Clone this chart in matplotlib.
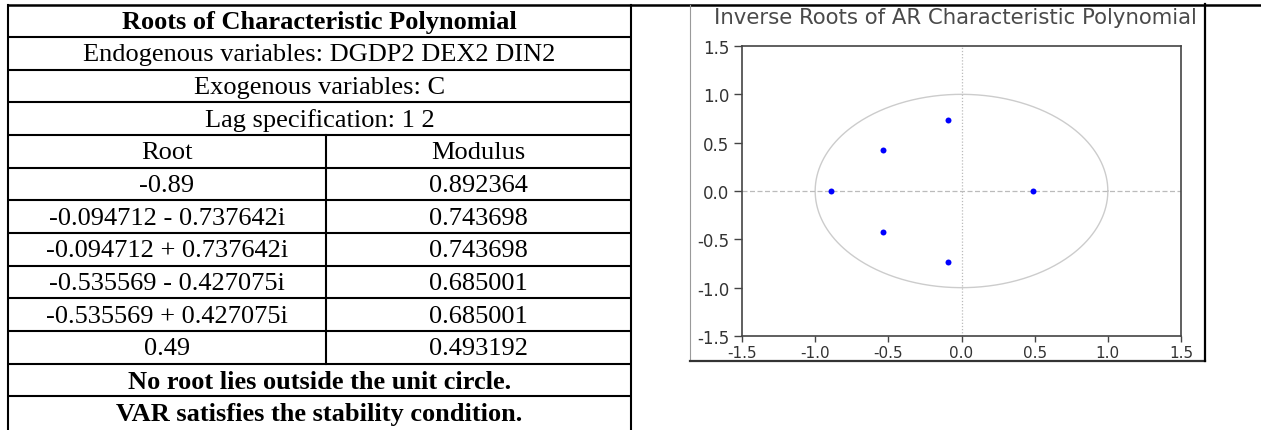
import matplotlib
matplotlib.use('Agg')
import matplotlib.pyplot as plt
import numpy as np

# ---------------- data ----------------
header_rows = ["Roots of Characteristic Polynomial",
               "Endogenous variables: DGDP2 DEX2 DIN2",
               "Exogenous variables: C",
               "Lag specification: 1 2"]
col_headers = ["Root", "Modulus"]
root_labels = ["-0.89", "-0.094712 - 0.737642i", "-0.094712 + 0.737642i",
               "-0.535569 - 0.427075i", "-0.535569 + 0.427075i", "0.49"]
modulus_labels = ["0.892364", "0.743698", "0.743698", "0.685001", "0.685001", "0.493192"]
footer_rows = ["No root lies outside the unit circle.",
               "VAR satisfies the stability condition."]
root_re = [-0.89, -0.094712, -0.094712, -0.535569, -0.535569, 0.49]
root_im = [0.0, -0.737642, 0.737642, -0.427075, 0.427075, 0.0]
chart_title = "Inverse Roots of AR Characteristic Polynomial"
tick_values = [-1.5, -1.0, -0.5, 0.0, 0.5, 1.0, 1.5]
tick_labels = ["-1.5", "-1.0", "-0.5", "0.0", "0.5", "1.0", "1.5"]

# ---------------- figure ----------------
W, H = 1261, 431
fig = plt.figure(figsize=(W / 100, H / 100), dpi=100)
bg = fig.add_axes([0, 0, 1, 1])
bg.set_xlim(0, W)
bg.set_ylim(H, 0)
bg.axis('off')

serif = 'Liberation Serif'
fs = 19
tl, tr, tc = 8, 631, 326
xmid = (tl + tr) / 2
n_rows = len(header_rows) + 1 + len(root_labels) + len(footer_rows)
edges = np.linspace(5.5, 430, n_rows + 1)
lw = 1.5

# table lines
bg.plot([tl, W], [edges[0], edges[0]], color='black', lw=1.8, solid_capstyle='butt')
for e in edges[1:-1]:
    bg.plot([tl, tr], [e, e], color='black', lw=lw, solid_capstyle='butt')
bg.plot([tl, tl], [edges[0], H], color='black', lw=lw)
bg.plot([tr, tr], [edges[0], H], color='black', lw=lw)
i0 = len(header_rows)
i1 = i0 + 1 + len(root_labels)
bg.plot([tc, tc], [edges[i0], edges[i1]], color='black', lw=lw)

def rowy(i):
    return (edges[i] + edges[i + 1]) / 2 + 1

for i, t in enumerate(header_rows):
    bg.text(xmid, rowy(i), t, ha='center', va='center', fontsize=fs, family=serif,
            fontweight='bold' if i == 0 else 'normal')
bg.text((tl + tc) / 2, rowy(i0), col_headers[0], ha='center', va='center', fontsize=fs, family=serif)
bg.text((tc + tr) / 2, rowy(i0), col_headers[1], ha='center', va='center', fontsize=fs, family=serif)
for k, (r, m) in enumerate(zip(root_labels, modulus_labels)):
    bg.text((tl + tc) / 2, rowy(i0 + 1 + k), r, ha='center', va='center', fontsize=fs, family=serif)
    bg.text((tc + tr) / 2, rowy(i0 + 1 + k), m, ha='center', va='center', fontsize=fs, family=serif)
for k, t in enumerate(footer_rows):
    bg.text(xmid, rowy(i1 + k), t, ha='center', va='center', fontsize=fs, family=serif, fontweight='bold')

# chart image frame
bg.plot([690, 690], [6, 362], color='#9a9a9a', lw=0.8)
bg.plot([690, 1205], [362, 362], color='#333333', lw=1.6)
bg.plot([1205, 1205], [5, 362], color='black', lw=1.6)
bg.text(955, 18.5, chart_title, ha='center', va='center', fontsize=15.3,
        color='#4a4a4a', family='DejaVu Sans')

# ---------------- chart ----------------
ax = fig.add_axes([742 / W, (H - 337) / H, (1181 - 742) / W, (337 - 47) / H])
ax.set_xlim(-1.5, 1.5)
ax.set_ylim(-1.5, 1.5)
theta = np.linspace(0, 2 * np.pi, 500)
ax.plot(np.cos(theta), np.sin(theta), color='#cccccc', lw=1.0)
ax.axhline(0, color='#bbbbbb', lw=0.9, ls=(0, (4, 2)))
ax.axvline(0, color='#bbbbbb', lw=0.9, ls=(0, (1, 1.5)))
ax.plot(root_re, root_im, 'o', color='#0000ff', ms=4.3, mec='none')
ax.set_xticks(tick_values)
ax.set_xticklabels(tick_labels)
ax.set_yticks(tick_values)
ax.set_yticklabels(tick_labels)
for s in ax.spines.values():
    s.set_color('#444444')
    s.set_linewidth(1.2)
ax.tick_params(axis='both', direction='out', color='#444444', width=1.0,
               labelcolor='#333333')
ax.tick_params(axis='y', length=6, pad=3, labelsize=12)
ax.tick_params(axis='x', length=4.5, pad=2, labelsize=11)
for lab in ax.get_xticklabels() + ax.get_yticklabels():
    lab.set_family('DejaVu Sans')

fig.savefig('out.png', dpi=100)
